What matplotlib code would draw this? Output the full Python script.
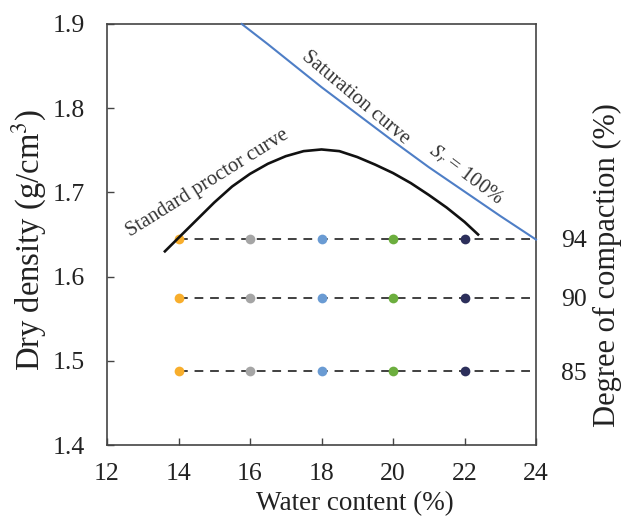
import matplotlib
matplotlib.use("Agg")
import matplotlib.pyplot as plt

# ---- data ----
proctor_w = [13.62, 14.0, 14.5, 15.0, 15.5, 16.0, 16.5, 17.0, 17.5, 18.0, 18.5, 19.0,
             19.5, 20.0, 20.5, 21.0, 21.5, 22.0, 22.38]
proctor_rho = [1.630, 1.646, 1.667, 1.688, 1.707, 1.722, 1.734, 1.743, 1.749, 1.751, 1.749, 1.742,
               1.733, 1.723, 1.711, 1.697, 1.682, 1.665, 1.650]

sat_w = [15.77, 16.5, 17.0, 18.0, 19.0, 20.0, 21.0, 22.0, 23.0, 24.0]
sat_rho = [1.900, 1.876, 1.859, 1.825, 1.793, 1.761, 1.730, 1.701, 1.672, 1.644]

water_contents = [14, 16, 18, 20, 22]
point_colors = ["#F8AE2C", "#A5A5A5", "#6A9BD3", "#6CAE3E", "#2C2F5B"]
compaction_levels = ["94", "90", "85"]
compaction_density = [1.645, 1.575, 1.4875]

x_ticks = [12, 14, 16, 18, 20, 22, 24]
y_ticks = [1.4, 1.5, 1.6, 1.7, 1.8, 1.9]

plt.rcParams['font.family'] = ['Liberation Serif', 'DejaVu Serif']
plt.rcParams['mathtext.fontset'] = 'stix'

W, H = 623, 516
fig = plt.figure(figsize=(W / 100, H / 100), dpi=100)
ax = fig.add_axes([107 / W, 1 - 445 / H, (536 - 107) / W, (445 - 24) / H])

fs = 18.5
edge = "#444444"
txt = "#222222"

# dashed compaction lines with points
for rho in compaction_density:
    ax.plot([water_contents[0], x_ticks[-1]], [rho, rho], ls=(0, (4.5, 3.5)),
            color="#404040", lw=1.4, zorder=2)
    for w, c in zip(water_contents, point_colors):
        ax.plot(w, rho, 'o', color=c, ms=7, mec='none', zorder=3)

ax.plot(proctor_w, proctor_rho, color="#111111", lw=1.9, zorder=4,
        solid_joinstyle='round')
ax.plot(sat_w, sat_rho, color="#4E7EC6", lw=1.5, zorder=4, clip_on=False)

ax.set_xlim(12, 24)
ax.set_ylim(1.4, 1.9)
ax.set_xticks(x_ticks)
ax.set_yticks(y_ticks)
ax.set_yticklabels([f"{v:.1f}" for v in y_ticks])
ax.tick_params(direction='in', length=5, width=1, labelsize=fs, colors=edge,
               labelcolor=txt)
ax.tick_params(axis='y', pad=16)
ax.tick_params(axis='x', pad=13)
for s in ax.spines.values():
    s.set_color(edge)
    s.set_linewidth(1.2)

ax2 = ax.twinx()
ax2.set_ylim(1.4, 1.9)
ax2.set_yticks(compaction_density)
ax2.set_yticklabels(compaction_levels)
ax2.tick_params(direction='in', length=0, labelsize=fs, labelcolor=txt, pad=18)
for s in ax2.spines.values():
    s.set_visible(False)

# axis titles
fig.text(355 / W, 1 - 504 / H, "Water content (%)", fontsize=19.5, color=txt,
         ha='center', va='center')
fig.text(29 / W, 1 - 240 / H, r"Dry density (g/cm$^3$)", fontsize=23.5, color=txt,
         rotation=90, ha='center', va='center')
fig.text(607 / W, 1 - 265 / H, "Degree of compaction (%)", fontsize=22, color=txt,
         rotation=90, ha='center', va='center')

ax.text(14.8, 1.711, "Standard proctor curve", rotation=32, fontsize=14.8,
        ha='center', va='center', color="#333333")
ax.text(18.95, 1.812, "Saturation curve", rotation=-40, fontsize=14.8,
        ha='center', va='center', color="#333333")
ax.text(22.05, 1.721, r"$S_r$ = 100%", rotation=-37, fontsize=14.8,
        ha='center', va='center', color="#333333")

fig.savefig("out.png", dpi=100)
